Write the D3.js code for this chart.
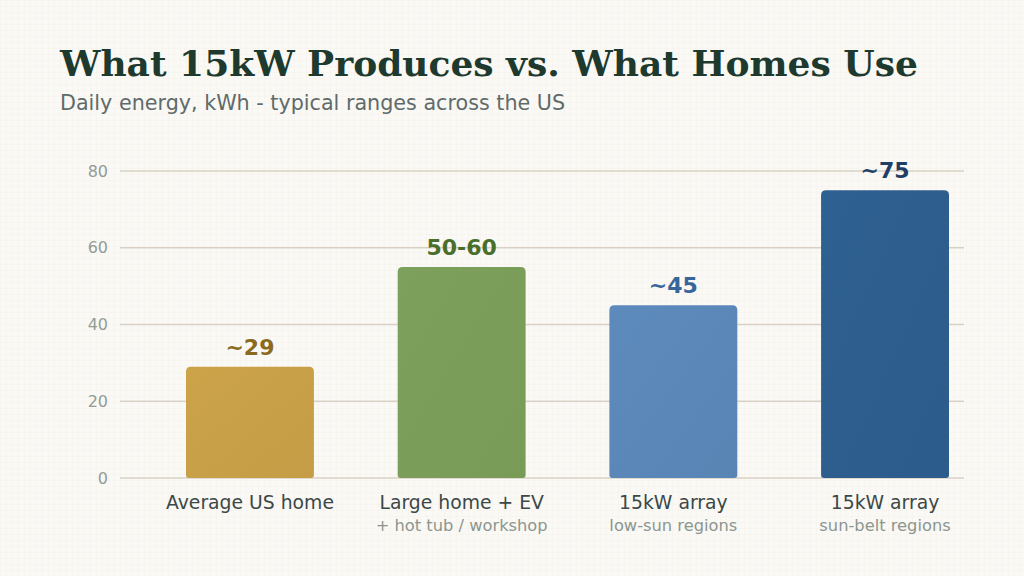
<!DOCTYPE html>
<html><head><meta charset="utf-8">
<script src="https://cdn.jsdelivr.net/npm/d3@7"></script>
<style>html,body{margin:0;padding:0;background:#faf8f3;}svg{display:block;}</style>
</head><body>
<svg id="chart" width="1024" height="576"></svg>
<script>
const categories = ["Average US home", "Large home + EV", "15kW array", "15kW array"];
const subLabels = ["", "+ hot tub / workshop", "low-sun regions", "sun-belt regions"];
const values = [29, 55, 45, 75];
const valueLabels = ["~29", "50-60", "~45", "~75"];
const yTicks = [0, 20, 40, 60, 80];

const barColors = ["#c8a047", "#7a9e5a", "#5b87b8", "#2d5e8e"];
const labelColors = ["#8a6a1c", "#4a6e2c", "#37669a", "#1f3f66"];

const svg = d3.select("#chart");
const W = 1024, H = 576;
const defs = svg.append("defs");
const pat = defs.append("pattern").attr("id","bgp").attr("width",6).attr("height",6).attr("patternUnits","userSpaceOnUse");
pat.append("rect").attr("width",6).attr("height",6).attr("fill","#faf9f5");
pat.append("path").attr("d","M0 0.5H6M0.5 0V6").attr("stroke","#f4f1ea").attr("stroke-width",0.5);
svg.append("rect").attr("width",W).attr("height",H).attr("fill","url(#bgp)");

barColors.forEach((c,i)=>{
  const g = defs.append("linearGradient").attr("id","g"+i).attr("x1","0").attr("y1","0").attr("x2","1").attr("y2","1");
  g.append("stop").attr("offset","0").attr("stop-color", d3.color(c).brighter(0.06));
  g.append("stop").attr("offset","1").attr("stop-color", d3.color(c).darker(0.05));
});

const y = d3.scaleLinear().domain([0, 80]).range([478, 171]);
const x = d3.scaleBand().domain(d3.range(categories.length)).range([186, 949]).paddingInner(0.3957).paddingOuter(0);

// title
svg.append("text").attr("x",60).attr("y",76).text("What 15kW Produces vs. What Homes Use")
  .attr("font-family","DejaVu Serif").attr("font-weight","bold").attr("font-size",36).attr("fill","#1e3a2f");
svg.append("text").attr("x",60).attr("y",110).text("Daily energy, kWh - typical ranges across the US")
  .attr("font-family","DejaVu Sans").attr("font-size",20.7).attr("fill","#5f6b6b");

// grid
const grid = svg.append("g");
grid.selectAll("line").data(yTicks).join("line")
  .attr("x1",120).attr("x2",964).attr("y1",d=>y(d)).attr("y2",d=>y(d))
  .attr("stroke","#d9d1c5").attr("stroke-width",1.3);
grid.selectAll("text").data(yTicks).join("text")
  .attr("x",108).attr("y",d=>y(d)).attr("dy","0.35em").attr("text-anchor","end")
  .attr("font-family","DejaVu Sans").attr("font-size",16).attr("fill","#929c96").text(d=>d);

// bars
const r = 5;
function barPath(x0, y0, w, h){
  return `M${x0},${y0+h-3}V${y0+r}Q${x0},${y0} ${x0+r},${y0}H${x0+w-r}Q${x0+w},${y0} ${x0+w},${y0+r}V${y0+h-3}Q${x0+w},${y0+h} ${x0+w-3},${y0+h}H${x0+3}Q${x0},${y0+h} ${x0},${y0+h-3}Z`;
}
svg.append("g").selectAll("path").data(values).join("path")
  .attr("d",(d,i)=>barPath(x(i), y(d), x.bandwidth(), y(0)-y(d)))
  .attr("fill",(d,i)=>`url(#g${i})`);

svg.append("g").selectAll("text").data(values).join("text")
  .attr("x",(d,i)=>x(i)+x.bandwidth()/2).attr("y",d=>y(d)-12).attr("text-anchor","middle")
  .attr("font-family","DejaVu Sans").attr("font-weight","bold").attr("font-size",22)
  .attr("fill",(d,i)=>labelColors[i]).text((d,i)=>valueLabels[i]);

const xl = svg.append("g");
xl.selectAll("text.cat").data(categories).join("text").attr("class","cat")
  .attr("x",(d,i)=>x(i)+x.bandwidth()/2).attr("y",509).attr("text-anchor","middle")
  .attr("font-family","DejaVu Sans").attr("font-size",18.8).attr("fill","#3c4848").text(d=>d);
xl.selectAll("text.sub").data(subLabels).join("text").attr("class","sub")
  .attr("x",(d,i)=>x(i)+x.bandwidth()/2).attr("y",530.5).attr("text-anchor","middle")
  .attr("font-family","DejaVu Sans").attr("font-size",16.3).attr("fill","#8c9690").text(d=>d);
</script>
</body></html>
